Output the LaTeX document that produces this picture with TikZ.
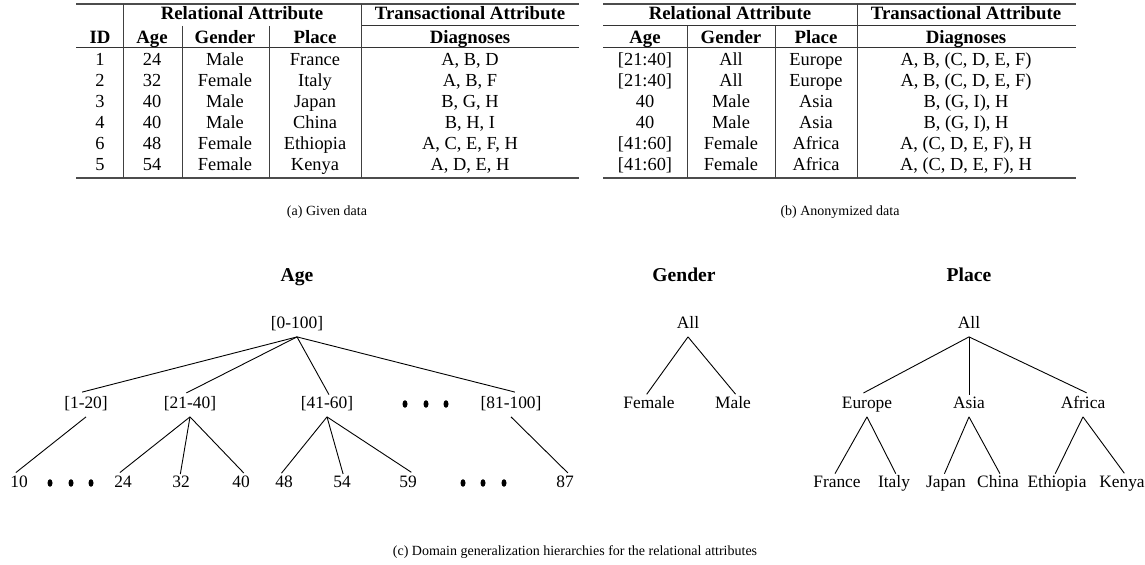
\documentclass[tikz,border=0pt]{standalone}
\usepackage{fontspec}
\setmainfont{Liberation Serif}

\begin{document}
\begin{tikzpicture}[x=0.5pt,y=-0.5pt,
    cell/.style={font=\fontsize{9.2}{10}\selectfont, inner sep=0pt, anchor=base},
    head/.style={font=\fontsize{9.4}{10}\selectfont\bfseries, inner sep=0pt, anchor=base},
    lab/.style={font=\fontsize{8.7}{10}\selectfont, text height=6.5pt, text depth=2pt, inner xsep=1pt, inner ysep=2pt},
    ttl/.style={font=\fontsize{9.8}{11}\selectfont\bfseries, inner sep=0pt, anchor=base},
    capt/.style={font=\fontsize{7}{8}\selectfont, inner sep=0pt, anchor=base},
    outrule/.style={line width=0.8pt, black!70},
    midrule/.style={line width=0.5pt, black!80},
    colrule/.style={line width=0.5pt, black!75},
    edge/.style={line width=0.45pt, shorten >=-2pt}]
\useasboundingbox (0,0) rectangle (1145,565);

% (a) given data
\draw[outrule] (76,4) -- (579,4);
\draw[midrule] (361,26) -- (579,26);
\draw[midrule] (76,48) -- (579,48);
\draw[outrule] (76,178) -- (579,178);
\draw[colrule] (123,4) -- (123,178);
\draw[colrule] (182,26) -- (182,178);
\draw[colrule] (269,26) -- (269,178);
\draw[colrule] (361,4) -- (361,178);
\node[head] (ga-rel) at (242,19.5) {Relational Attribute};
\node[head] (ga-tra) at (470,19.5) {Transactional Attribute};
\node[head] (ga-id) at (100,43.5) {ID};
\node[head] (ga-age) at (152,43.5) {Age};
\node[head] (ga-gen) at (225,43.5) {Gender};
\node[head] (ga-pl) at (315,43.5) {Place};
\node[head] (ga-dg) at (470,43.5) {Diagnoses};
\foreach \r/\id/\ag/\gn/\pl/\dg [evaluate=\r as \yb using 45+21*\r] in
    {1/1/24/Male/France/{A, B, D}, 2/2/32/Female/Italy/{A, B, F},
     3/3/40/Male/Japan/{B, G, H}, 4/4/40/Male/China/{B, H, I},
     5/6/48/Female/Ethiopia/{A, C, E, F, H}, 6/5/54/Female/Kenya/{A, D, E, H}} {
    \node[cell] (ga-\r-id) at (100,\yb) {\id};
    \node[cell] (ga-\r-age) at (152,\yb) {\ag};
    \node[cell] (ga-\r-gen) at (225,\yb) {\gn};
    \node[cell] (ga-\r-pl) at (315,\yb) {\pl};
    \node[cell] (ga-\r-dg) at (470,\yb) {\dg};
}
\node[capt] (cap-a) at (327,216) {(a) Given data};

% (b) anonymized data
\draw[outrule] (603,4) -- (1076,4);
\draw[midrule] (603,26) -- (1076,26);
\draw[midrule] (603,48) -- (1076,48);
\draw[outrule] (603,178) -- (1076,178);
\draw[colrule] (687,26) -- (687,178);
\draw[colrule] (775,26) -- (775,178);
\draw[colrule] (857,4) -- (857,178);
\node[head] (an-rel) at (730,19.5) {Relational Attribute};
\node[head] (an-tra) at (966,19.5) {Transactional Attribute};
\node[head] (an-age) at (645,43.5) {Age};
\node[head] (an-gen) at (731,43.5) {Gender};
\node[head] (an-pl) at (816,43.5) {Place};
\node[head] (an-dg) at (966,43.5) {Diagnoses};
\foreach \r/\ag/\gn/\pl/\dg [evaluate=\r as \yb using 45+21*\r] in
    {1/{[21:40]}/All/Europe/{A, B, (C, D, E, F)}, 2/{[21:40]}/All/Europe/{A, B, (C, D, E, F)},
     3/40/Male/Asia/{B, (G, I), H}, 4/40/Male/Asia/{B, (G, I), H},
     5/{[41:60]}/Female/Africa/{A, (C, D, E, F), H}, 6/{[41:60]}/Female/Africa/{A, (C, D, E, F), H}} {
    \node[cell] (an-\r-age) at (645,\yb) {\ag};
    \node[cell] (an-\r-gen) at (731,\yb) {\gn};
    \node[cell] (an-\r-pl) at (816,\yb) {\pl};
    \node[cell] (an-\r-dg) at (966,\yb) {\dg};
}
\node[capt] (cap-b) at (840,216) {(b) Anonymized data};

% age hierarchy
\node[ttl] (t-age) at (297,282) {Age};
\node[lab] (a0) at (297,324) {[0-100]};
\node[lab] (a1) at (86,404) {[1-20]};
\node[lab] (a2) at (190,404) {[21-40]};
\node[lab] (a3) at (327,404) {[41-60]};
\node[lab] (a4) at (511,404) {[81-100]};
\foreach \v/\x in {10/19, 24/123, 32/181, 40/241, 48/284, 54/342, 59/408, 87/565}
    \node[lab] (a\v) at (\x,483) {\v};
\foreach \c in {a1,a2,a3,a4}
    \draw[edge] (a0.south) -- (\c.north);
\draw[edge] (a1.south) -- (a10.north);
\foreach \c in {a24,a32,a40}
    \draw[edge] (a2.south) -- (\c.north);
\foreach \c in {a48,a54,a59}
    \draw[edge] (a3.south) -- (\c.north);
\draw[edge] (a4.south) -- (a87.north);
\foreach \x in {405,426,446}
    \fill (\x,404) ellipse (2.5 and 3.8);
\foreach \x in {50,71,91,463,483,504}
    \fill (\x,483) ellipse (2.5 and 3.8);

% gender hierarchy
\node[ttl] (t-gen) at (684,282) {Gender};
\node[lab] (g0) at (688,324) {All};
\node[lab] (gf) at (649,404) {Female};
\node[lab] (gm) at (733,404) {Male};
\draw[edge] (g0.south) -- (gf.north);
\draw[edge] (g0.south) -- (gm.north);

% place hierarchy
\node[ttl] (t-pl) at (969,282) {Place};
\node[lab] (p0) at (969,324) {All};
\node[lab] (pe) at (867,404) {Europe};
\node[lab] (pa) at (969,404) {Asia};
\node[lab] (pf) at (1083,404) {Africa};
\node[lab] (pfr) at (837,483) {France};
\node[lab] (pit) at (894,483) {Italy};
\node[lab] (pjp) at (946,483) {Japan};
\node[lab] (pcn) at (998,483) {China};
\node[lab] (pet) at (1057,483) {Ethiopia};
\node[lab] (pke) at (1122,483) {Kenya};
\foreach \c in {pe,pa,pf}
    \draw[edge] (p0.south) -- (\c.north);
\draw[edge] (pe.south) -- (pfr.north);
\draw[edge] (pe.south) -- (pit.north);
\draw[edge] (pa.south) -- (pjp.north);
\draw[edge] (pa.south) -- (pcn.north);
\draw[edge] (pf.south) -- (pet.north);
\draw[edge] (pf.south) -- (pke.north);

\node[capt] (cap-c) at (575,556) {(c) Domain generalization hierarchies for the relational attributes};
\end{tikzpicture}
\end{document}
